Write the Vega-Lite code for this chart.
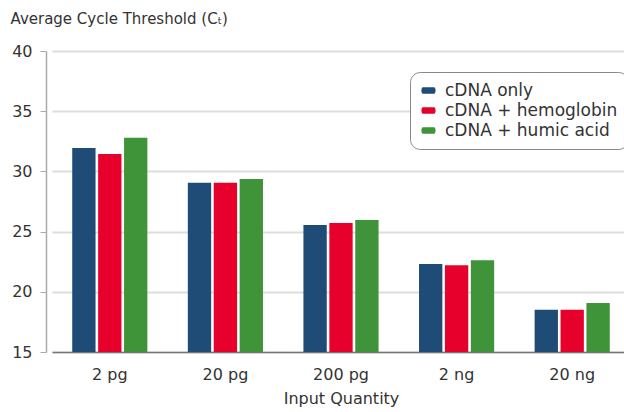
{
  "$schema": "https://vega.github.io/schema/vega-lite/v6.json",
  "width": 578,
  "height": 301,
  "autosize": "none",
  "padding": {"left": 46, "top": 51, "right": 0, "bottom": 60},
  "background": "white",
  "config": {
    "font": "DejaVu Sans",
    "view": {"stroke": null},
    "axis": {"labelColor": "#333333", "titleColor": "#333333", "labelFontWeight": "normal", "titleFontWeight": "normal"}
  },
  "data": {
    "values": [
      {"qty": "2 pg", "sample": "cDNA only", "ct": 31.95},
      {"qty": "2 pg", "sample": "cDNA + hemoglobin", "ct": 31.45},
      {"qty": "2 pg", "sample": "cDNA + humic acid", "ct": 32.8},
      {"qty": "20 pg", "sample": "cDNA only", "ct": 29.05},
      {"qty": "20 pg", "sample": "cDNA + hemoglobin", "ct": 29.05},
      {"qty": "20 pg", "sample": "cDNA + humic acid", "ct": 29.37},
      {"qty": "200 pg", "sample": "cDNA only", "ct": 25.55},
      {"qty": "200 pg", "sample": "cDNA + hemoglobin", "ct": 25.72},
      {"qty": "200 pg", "sample": "cDNA + humic acid", "ct": 25.96},
      {"qty": "2 ng", "sample": "cDNA only", "ct": 22.3},
      {"qty": "2 ng", "sample": "cDNA + hemoglobin", "ct": 22.2},
      {"qty": "2 ng", "sample": "cDNA + humic acid", "ct": 22.62},
      {"qty": "20 ng", "sample": "cDNA only", "ct": 18.5},
      {"qty": "20 ng", "sample": "cDNA + hemoglobin", "ct": 18.5},
      {"qty": "20 ng", "sample": "cDNA + humic acid", "ct": 19.07}
    ]
  },
  "mark": {"type": "bar", "clip": true},
  "encoding": {
    "x": {
      "field": "qty",
      "type": "nominal",
      "sort": ["2 pg", "20 pg", "200 pg", "2 ng", "20 ng"],
      "scale": {"range": [6, 584], "paddingInner": 0.35, "paddingOuter": 0.175},
      "axis": {
        "title": "Input Quantity",
        "labelAngle": 0,
        "labelFontSize": 16,
        "titleFontSize": 16,
        "ticks": false,
        "labelPadding": 14,
        "titlePadding": 8,
        "domainColor": "#777777",
        "domainWidth": 1.5
      }
    },
    "xOffset": {
      "field": "sample",
      "type": "nominal",
      "sort": ["cDNA only", "cDNA + hemoglobin", "cDNA + humic acid"],
      "scale": {"paddingInner": 0.1}
    },
    "y": {
      "field": "ct",
      "type": "quantitative",
      "scale": {"domain": [15, 40], "zero": false, "nice": false},
      "axis": {
        "title": "Average Cycle Threshold (Cₜ)",
        "titleAngle": 0,
        "titleAlign": "left",
        "titleBaseline": "alphabetic",
        "titleX": -36,
        "titleY": -28,
        "titleFontSize": 15,
        "labelFontSize": 16,
        "values": [15, 20, 25, 30, 35, 40],
        "tickSize": 6,
        "tickColor": "#aaaaaa",
        "labelPadding": 8,
        "domainColor": "#aaaaaa",
        "domainWidth": 1.5,
        "grid": true,
        "gridColor": "#dddddd",
        "gridWidth": 2
      }
    },
    "y2": {"datum": 15},
    "color": {
      "field": "sample",
      "type": "nominal",
      "sort": ["cDNA only", "cDNA + hemoglobin", "cDNA + humic acid"],
      "scale": {"domain": ["cDNA only", "cDNA + hemoglobin", "cDNA + humic acid"], "range": ["#1f4b77", "#e8002d", "#3f9338"]},
      "legend": {
        "title": null,
        "orient": "none",
        "legendX": 364,
        "legendY": 21,
        "padding": 10,
        "strokeColor": "#888888",
        "fillColor": "white",
        "cornerRadius": 10,
        "labelFontSize": 17,
        "labelLimit": 400,
        "labelColor": "#333333",
        "labelOffset": 8,
        "rowPadding": 2,
        "symbolSize": 200,
        "symbolStrokeWidth": 0,
        "symbolType": "M-0.8,-0.45H0.8A0.2,0.45 0 0 1 0.8,0.45H-0.8A0.2,0.45 0 0 1 -0.8,-0.45Z"
      }
    }
  }
}
